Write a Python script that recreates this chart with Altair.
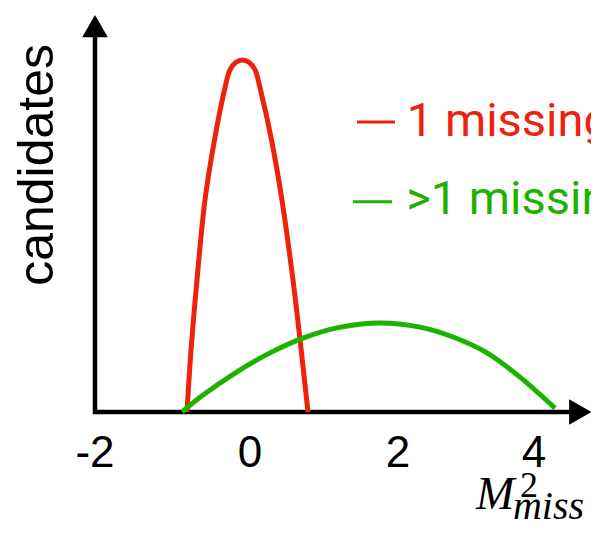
import altair as alt
import pandas as pd

RED = "#EE220C"
GREEN = "#1DB100"

# Curves (x in M^2_miss units, y in arbitrary "candidates" units)
red_x = [-0.813, -0.761, -0.684, -0.581, -0.458, -0.329, -0.258, -0.181, -0.097,
         -0.013, 0.068, 0.142, 0.291, 0.432, 0.581, 0.676, 0.784]
red_y = [0, 17.6, 37.5, 60.2, 77.3, 91.5, 97.2, 99.35, 100,
         99.35, 97.2, 91.5, 77.3, 60.2, 37.5, 20.5, 0]

green_x = [-0.877, -0.606, -0.168, 0.27, 0.716, 1.176, 1.757, 2.324, 2.809, 3.309, 3.794, 4.309]
green_y = [0, 4.8, 11.4, 16.8, 21.0, 23.9, 25.3, 24.1, 21.3, 16.8, 9.9, 1.1]

series_names = ["1 missing", ">1 missing"]

tick_values = [-2, 0, 2, 4]
tick_labels = ["-2", "0", "2", "4"]

x_axis_title = "M"
y_axis_title = "candidates"

# axis frame (y-axis top, origin, x-axis end)
frame_x = [-2, -2, 4.55]
frame_y = [106.5, 0, 0]

xs = alt.Scale(domain=[-2, 0, 2, 4], range=[87, 242, 390, 526])
ys = alt.Scale(domain=[0, 100], range=[404, 52])


def X(field="x"):
    return alt.X(f"{field}:Q", scale=xs, axis=None)


def Y(field="y"):
    return alt.Y(f"{field}:Q", scale=ys, axis=None)


curves = pd.DataFrame(
    [{"x": a, "y": b, "s": series_names[0], "o": i} for i, (a, b) in enumerate(zip(red_x, red_y))]
    + [{"x": a, "y": b, "s": series_names[1], "o": i} for i, (a, b) in enumerate(zip(green_x, green_y))]
)

frame = pd.DataFrame({"x": frame_x, "y": frame_y, "o": [0, 1, 2]})

arrows = pd.DataFrame({"x": [-2, 4.68], "y": [109.6, 0], "shape": ["triangle-up", "triangle-right"]})

ticks = pd.DataFrame({"x": tick_values, "t": tick_labels, "y": [-15.6] * 4})

legend_dash = pd.DataFrame({"x": [1.446, 1.392], "x2": [1.959, 1.919], "y": [82.4, 59.7], "s": series_names})
legend_text = pd.DataFrame({"x": [2.13, 2.12], "y": [78.4, 56.3], "t": series_names, "s": series_names})

color = alt.Color("s:N", scale=alt.Scale(domain=series_names, range=[RED, GREEN]), legend=None)

frame_layer = alt.Chart(frame).mark_line(color="black", strokeWidth=4.5, strokeJoin="miter", strokeCap="butt").encode(
    x=X(), y=Y(), order="o:Q"
)

arrow_layer = alt.Chart(arrows).mark_point(filled=True, color="black", opacity=1, size=660).encode(
    x=X(), y=Y(), shape=alt.Shape("shape:N", scale=None)
)

curve_layer = alt.Chart(curves).mark_line(strokeWidth=5, interpolate="catmull-rom", strokeJoin="round").encode(
    x=X(), y=Y(), color=color, detail="s:N", order="o:Q"
)

tick_layer = alt.Chart(ticks).mark_text(
    font="Liberation Sans", fontSize=44, color="black", align="center", baseline="alphabetic"
).encode(x=X(), y=Y(), text="t:N")

dash_layer = alt.Chart(legend_dash).mark_rule(strokeWidth=3).encode(
    x=X(), x2="x2:Q", y=Y(), color=color
)

legend_layer = alt.Chart(legend_text).mark_text(
    font="Roboto", fontSize=47, align="left", baseline="alphabetic"
).encode(x=X(), y=Y(), text="t:N", color=color)

ytitle = alt.Chart(pd.DataFrame({"x": [-2.542], "y": [70.2], "t": [y_axis_title]})).mark_text(
    font="Liberation Sans", fontSize=50, angle=270, align="center", baseline="alphabetic", color="black"
).encode(x=X(), y=Y(), text="t:N")

mtitle = alt.Chart(pd.DataFrame({"x": [3.147], "y": [-27.6], "t": [x_axis_title]})).mark_text(
    font="Liberation Serif", fontSize=46, fontStyle="italic", align="left", baseline="alphabetic", color="black"
).encode(x=X(), y=Y(), text="t:N")

sup = alt.Chart(pd.DataFrame({"x": [3.794], "y": [-24.1], "t": ["2"]})).mark_text(
    font="Liberation Serif", fontSize=36, align="left", baseline="alphabetic", color="black"
).encode(x=X(), y=Y(), text="t:N")

sub = alt.Chart(pd.DataFrame({"x": [3.69], "y": [-30.4], "t": ["miss"]})).mark_text(
    font="Liberation Serif", fontSize=40, fontStyle="italic", align="left", baseline="alphabetic", color="black"
).encode(x=X(), y=Y(), text="t:N")

chart = alt.layer(
    frame_layer, arrow_layer, curve_layer, dash_layer, tick_layer, legend_layer, ytitle, mtitle, sup, sub
).properties(
    width=583, height=512, autosize=alt.AutoSizeParams(type="none"), padding=0
).configure_view(stroke=None)

chart.save("out.html", embed_options={"renderer": "svg", "actions": False})
